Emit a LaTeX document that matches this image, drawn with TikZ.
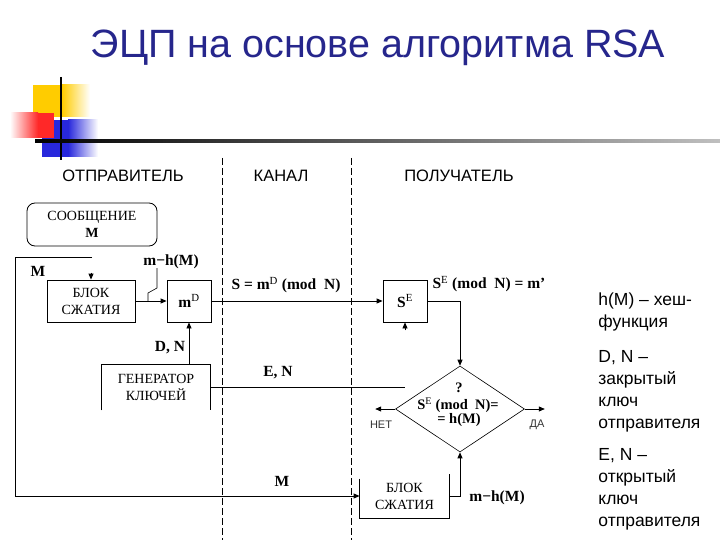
\documentclass[tikz,border=0pt]{standalone}
\usepackage{fontspec}
\setmainfont{Liberation Serif}
\newfontfamily\arial{Liberation Sans}
\usetikzlibrary{arrows.meta,shapes.geometric}
\definecolor{titleblue}{RGB}{38,38,140}
\definecolor{decoY}{RGB}{255,204,0}
\definecolor{decoR}{RGB}{255,40,40}
\definecolor{decoB}{RGB}{40,40,220}
\begin{document}
\begin{tikzpicture}[x=1pt,y=-1pt,line width=0.8pt,
  arr/.style={-{Triangle[length=6pt,width=5pt]}},
  lab/.style={font=\fontsize{15.5}{17}\selectfont\bfseries, inner sep=0pt},
  boxtxt/.style={font=\fontsize{14}{17}\selectfont, align=center},
  head/.style={font=\fontsize{16.5}{18}\selectfont\arial},
  legend/.style={font=\fontsize{17.5}{22}\selectfont\arial, align=left, inner sep=0pt, anchor=north west},
  small/.style={font=\fontsize{11}{13}\selectfont\arial, text=black!80},
  lane/.style={dash pattern=on 7pt off 3pt, line width=0.7pt}]
\useasboundingbox (0,0) rectangle (720,540);
% decoration
\fill[decoY] (33,85) rectangle (62,117);
\shade[left color=decoY, right color=white] (62,85) rectangle (90,117);
\fill[decoB] (42,120) rectangle (68,157);
\shade[left color=decoB, right color=white] (68,120) rectangle (98,157);
\shade[left color=white, right color=decoR] (10,113) rectangle (38,138);
\fill[decoR] (38,113) rectangle (54,138);
\draw[line width=2pt] (61,77) -- (61,160);
\shade[left color=black, right color=gray!50] (35,140) rectangle (720,142.5);
% title
\node[font=\fontsize{39.5}{42}\selectfont\arial, text=titleblue] (title) at (378,48) {ЭЦП на основе алгоритма RSA};
% headers
\node[head] (h1) at (123,176) {ОТПРАВИТЕЛЬ};
\node[head] (h2) at (281,176) {КАНАЛ};
\node[head] (h3) at (459,176) {ПОЛУЧАТЕЛЬ};
% lanes
\coordinate (l1t) at (222,158); \coordinate (l1b) at (222,540);
\coordinate (l2t) at (351,158); \coordinate (l2b) at (351,540);
\draw[lane] (l1t) -- (l1b);
\draw[lane] (l2t) -- (l2b);
% boxes
\node[draw, rounded corners=8pt, minimum width=130pt, minimum height=43pt, boxtxt] (msg) at (92,224.5) {СООБЩЕНИЕ\\\textbf{M}};
\node[draw, minimum width=88pt, minimum height=42pt, boxtxt] (blk1) at (91,301) {БЛОК\\СЖАТИЯ};
\node[draw, minimum width=44pt, minimum height=42pt, lab] (md) at (189,301) {m\textsuperscript{\mdseries D}};
\node[draw, minimum width=44pt, minimum height=42pt, lab] (se) at (405,301) {S\textsuperscript{\mdseries E}};
\node[minimum width=108pt, minimum height=45pt, boxtxt] (gen) at (156,387.5) {ГЕНЕРАТОР\\КЛЮЧЕЙ};
\draw (gen.south west) -- (gen.north west) -- (gen.north east) -- (gen.south east);
\node[minimum width=89pt, minimum height=44pt, boxtxt] (blk2) at (404.5,496) {БЛОК\\СЖАТИЯ};
\draw ([yshift=-5pt]blk2.north west) -- (blk2.south west) -- (blk2.south east) -- (blk2.north east);
\node[draw, diamond, minimum width=129pt, minimum height=86pt, inner sep=0pt, line width=0.6pt] (dia) at (460,409) {};
\node[lab, font=\fontsize{14.5}{16}\selectfont\bfseries] (dq) at (459,388) {?};
\node[lab, font=\fontsize{14.5}{16}\selectfont\bfseries] (dl1) at (458,405.5) {S\textsuperscript{\mdseries E} (mod\ \ N)=};
\node[lab, font=\fontsize{14.5}{16}\selectfont\bfseries] (dl2) at (459,420) {= h(M)};
% labels
\node[lab] (mtl) at (38,271) {M};
\node[lab] (mh1) at (171,262) {m−h(M)};
\node[lab] (dn) at (170,348) {D, N};
\node[lab] (sm) at (286,285) {S = m\textsuperscript{\mdseries D} (mod\ \ N)};
\node[lab] (sem) at (489,284) {S\textsuperscript{\mdseries E} (mod\ \ N) = m’};
\node[lab] (en) at (278,373) {E, N};
\node[lab] (mb) at (282,481) {M};
\node[lab] (mh2) at (497,498) {m−h(M)};
\node[small] (net) at (381,425) {НЕТ};
\node[small] (da) at (537,425) {ДА};
% connectors
\coordinate (cTL) at (15,257);
\coordinate (cTR) at (92,257);
\coordinate (cBL) at (15,496);
\draw (cTR) -- (cTL) -- (cBL);
\draw[arr] (cBL) -- (blk2.west);
\draw[arr] ([yshift=7pt]blk1.north) -- (blk1.north);
\draw[arr] (blk1.east) -- (md.west);
\coordinate (k1) at (157,268); \coordinate (k2) at (157,288);
\coordinate (k3) at (148,293); \coordinate (k4) at (148,301);
\draw[line width=0.6pt] (k1) -- (k2) -- (k3) -- (k4);
\draw[arr] (gen.north -| md.south) -- (md.south);
\draw[arr] (md.east) -- (se.west);
\coordinate (enEnd) at (se.south |- gen.east);
\draw (gen.east) -- (enEnd);
\draw[arr] ([yshift=-8pt]se.south) -- (se.south);
\draw[arr] (se.east) -| (dia.north);
\draw[arr] (dia.west) -- ++(-20,0) coordinate (netEnd);
\draw[arr] (dia.east) -- ++(20,0) coordinate (daEnd);
\draw[arr] (blk2.east) -| (dia.south);
% legend
\node[legend] (leg1) at (598,292) {h(M) – хеш-\\функция};
\node[legend] (leg2) at (598,350) {D, N –\\закрытый\\ключ\\отправителя};
\node[legend] (leg3) at (598,448) {E, N –\\открытый\\ключ\\отправителя};
\end{tikzpicture}
\end{document}
